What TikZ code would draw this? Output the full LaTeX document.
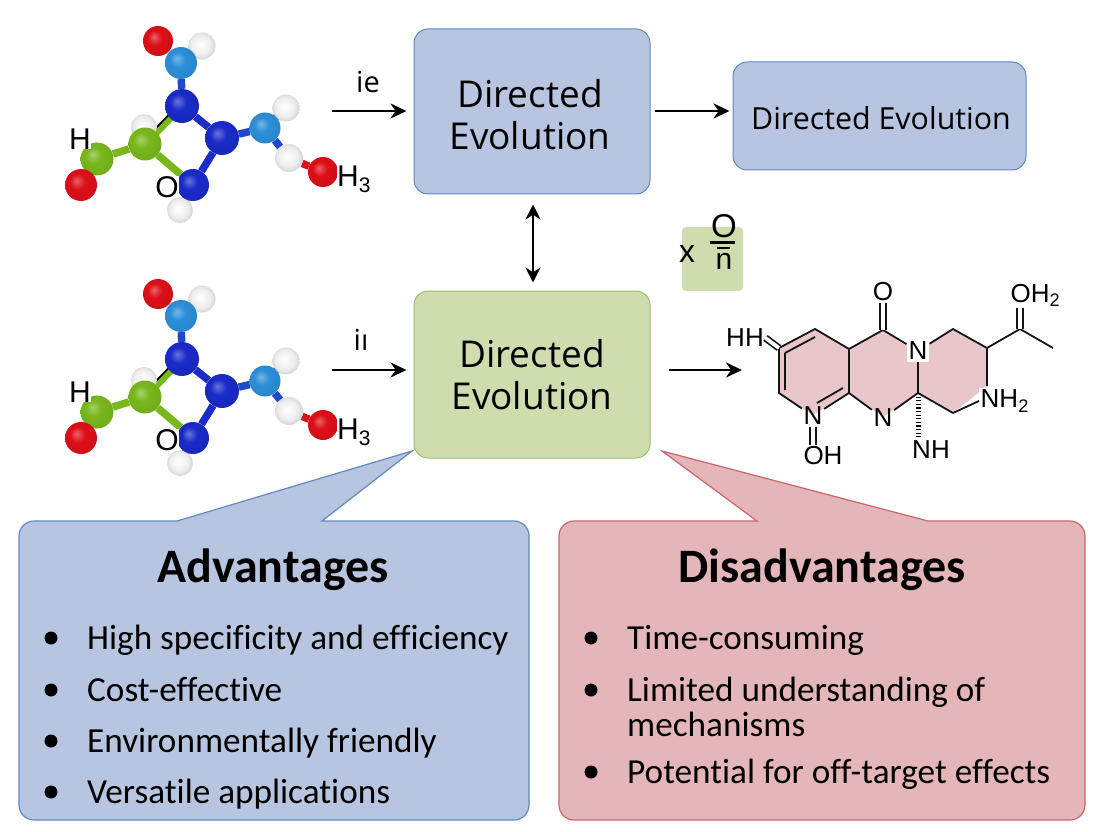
\documentclass[tikz,border=0pt]{standalone}
\usepackage{fontspec}
\setmainfont[RawFeature=-liga]{Carlito}
\newfontfamily\evofont{Open Sans}
\newfontfamily\chemfont{Liberation Sans}
\usetikzlibrary{arrows.meta,backgrounds}
\definecolor{boxblue}{HTML}{B8C5E0}
\definecolor{lineblue}{HTML}{5F8ABF}
\definecolor{boxgreen}{HTML}{CFDDAE}
\definecolor{linegreen}{HTML}{9DBD6E}
\definecolor{boxred}{HTML}{E5B6B9}
\definecolor{linered}{HTML}{C9656B}
\definecolor{ringpink}{HTML}{E8C6C9}
\definecolor{molred}{HTML}{DD0F18}
\definecolor{molblue}{HTML}{1A2BC8}
\definecolor{molsky}{HTML}{2C8FD8}
\definecolor{molgreen}{HTML}{78B81C}
\newcommand{\fsz}[1]{\fontsize{#1}{#1}\selectfont}
\newcommand{\newball}[2]{\pgfdeclareradialshading{#1}{\pgfpoint{-7bp}{7bp}}{%
  color(0bp)=(#2!65!white); color(12bp)=(#2); color(32bp)=(#2!92!black); color(50bp)=(#2!55!black)}}
\newball{redball}{molred}
\newball{blueball}{molblue}
\newball{skyball}{molsky}
\newball{greenball}{molgreen}
\pgfdeclareradialshading{whiteball}{\pgfpoint{-3bp}{3bp}}{%
  color(0bp)=(white); color(18bp)=(black!7); color(34bp)=(black!26); color(50bp)=(black!55)}

\begin{document}
\begin{tikzpicture}[x=1pt,y=-1pt,
  atom/.style 2 args={circle,inner sep=0pt,minimum size=#1,shading=#2ball},
  bond/.style={line width=7.5pt,draw=#1},
  lab/.style={font=\chemfont\fsz{30},inner sep=0pt},
  flow/.style={line width=2.8pt,-{Stealth[length=16pt,width=15pt]}},
  evobox/.style={draw=lineblue,fill=boxblue,line width=1pt,rounded corners=14pt,inner sep=0pt},
  evotext/.style={align=center,inner sep=0pt,font=\evofont\fsz{37}},
  callout/.style={line width=1.2pt},
  head/.style={font=\bfseries\fsz{48},inner sep=0pt},
  item/.style={anchor=base west,font=\fsz{35.2},inner sep=0pt},
  point/.style={circle,fill=black,inner sep=0pt,minimum size=13pt},
  chem/.style={font=\chemfont\fsz{26},inner sep=1.5pt},
  chembond/.style={line width=1.8pt,draw=black!92},
  dbl/.style={line width=1.7pt,double,double distance=3.8pt,draw=black!92},
  ballmol/.pic={
    \node[atom={26}{white}] (hb) at (144,127) {};
    \node[atom={30}{red}] (o1) at (158,41) {};
    \node[atom={27}{white}] (h1) at (202,46) {};
    \node[atom={32}{sky}] (c1) at (181,63) {};
    \node[atom={34}{blue}] (n1) at (182,106) {};
    \node[atom={34}{blue}] (n2) at (222,138) {};
    \node[atom={31}{sky}] (c2) at (265,128) {};
    \node[atom={27}{white}] (h2) at (286,108) {};
    \node[atom={30}{red}] (o2) at (323,172) {};
    \node[atom={28}{white}] (h3) at (289,158) {};
    \node[atom={26}{white}] (h4) at (180,210) {};
    \node[atom={32}{blue}] (n3) at (193,185) {};
    \node[atom={33}{green}] (g1) at (145,144) {};
    \node[atom={33}{green}] (g2) at (97,159) {};
    \node[atom={32}{red}] (o3) at (81,185) {};
    \node[lab,fill=white] (labh) at (80,139) {H};
    \node[lab,fill=white,inner sep=.5pt] (labo) at (167,187) {O};
    \node[lab,fill=white,anchor=west] (labt) at (337,179) {H\textsubscript{3}};
    \begin{scope}[on background layer]
      \draw[bond=molsky!50!white] (o1) -- (c1);
      \draw[bond=molblue!70!molsky] (h1) -- (c1);
      \draw[bond=molblue!70!molsky] (c1) -- (n1);
      \draw[bond=molblue] (n1) -- (n2) (n2) -- (n3);
      \draw[bond=molblue!70!molsky] (n2) -- (c2) (c2) -- (h2) (c2) -- (h3);
      \draw[bond=molred] (h3) -- (o2);
      \draw[bond=molgreen] (g1) -- (g2) (g1) -- (n3);
      \draw[bond=molred] (g2) -- (o3);
      \draw[bond=molblue] (n3) -- (h4);
      \draw[bond=black,line width=4pt] ([xshift=-3pt]n1.center) -- ([xshift=-3pt]g1.center);
      \draw[bond=molgreen,line width=6pt] ([xshift=1pt]n1.center) -- ([xshift=1pt]g1.center);
    \end{scope}
  }]
  \useasboundingbox (0,0) rectangle (1104,832);

  % molecules on the left
  \pic (mola) at (0,0) {ballmol};
  \pic (molb) at (0,253) {ballmol};

  % boxes
  \node[evobox,minimum width=236pt,minimum height=165pt] (dirtop) at (532,111.5) {};
  \node[evotext] (dirtoplab) at (530,115) {Directed\\[5pt]Evolution};
  \node[evobox,minimum width=293pt,minimum height=108pt] (dirright) at (879.5,116) {};
  \node[evotext,font=\evofont\fsz{30.4}] (dirrightlab) at (881,118) {Directed Evolution};
  \node[evobox,draw=linegreen,fill=boxgreen,minimum width=236pt,minimum height=167pt] (dirgreen) at (532,374.5) {};
  \node[evotext] (dirgreenlab) at (532,375) {Directed\\[5pt]Evolution};

  % arrows
  \coordinate (iestart) at (332,111);
  \coordinate (iistart) at (332,370);
  \coordinate (chemin) at (742,370);
  \node[font=\evofont\fsz{29},inner sep=0pt] (ielab) at (368,82) {ie};
  \node[font=\evofont\fsz{29},inner sep=0pt] (iilab) at (361,340) {iı};
  \draw[flow,shorten >=7pt] (iestart) -- (iestart -| dirtop.west);
  \draw[flow,shorten >=7pt] (iistart) -- (iistart -| dirgreen.west);
  \draw[flow,shorten <=4pt,shorten >=3pt] (iestart -| dirtop.east) -- (iestart -| dirright.west);
  \draw[flow,shorten <=18pt] (chemin -| dirgreen.east) -- (chemin);
  \draw[flow,{Stealth[length=15pt,width=15pt]}-{Stealth[length=15pt,width=15pt]},shorten <=10pt,shorten >=8pt]
    ([xshift=1pt]dirtop.south) -- ([xshift=1pt]dirgreen.north);

  % small green box
  \node[fill=boxgreen,rounded corners=4pt,minimum width=61pt,minimum height=64pt,inner sep=0pt] (xbox) at (712.5,259) {};
  \node[font=\chemfont\fsz{32},inner sep=0pt] (xlab) at (687,254) {x};
  \node[font=\chemfont\fsz{33},inner sep=0pt] (xo) at (724,226) {O};
  \node[font=\chemfont\fsz{30},inner sep=0pt] (xn) at (724,261) {n};
  \coordinate (xbara) at (710,242);
  \coordinate (xbarb) at (735,242);
  \coordinate (xbarc) at (717,248);
  \coordinate (xbard) at (730,248);
  \draw[line width=3pt] (xbara) -- (xbarb);
  \draw[line width=1.4pt] (xbarc) -- (xbard);

  % ring system
  \coordinate (la) at (815,329);
  \coordinate (lb) at (849,349);
  \coordinate (lc) at (849,393);
  \coordinate (ld) at (779,393);
  \coordinate (le) at (779,348);
  \coordinate (ma) at (883,330);
  \coordinate (mc) at (918,393);
  \coordinate (ra) at (953,329);
  \coordinate (rb) at (987,348);
  \coordinate (rc) at (987,386);
  \coordinate (rd) at (953,413);
  \coordinate (sa) at (1020,329);
  \coordinate (sb) at (1053,348);
  \path[fill=ringpink] (la) -- (lb) -- (ma) -- (918,350) -- (ra) -- (rb) -- (rc) -- (rd)
    -- (mc) -- (883,417) -- (lc) -- (813,415) -- (ld) -- (le) -- cycle;
  \node[chem,fill=white,inner sep=2pt] (nmid) at (918,351) {N};
  \node[chem] (nlow) at (813,416) {N};
  \node[chem] (nbot) at (883,418) {N};
  \node[chem,fill=white,anchor=west] (nhtwo) at (979,401) {NH\textsubscript{2}};
  \node[chem] (otop) at (883,292) {O};
  \node[chem,anchor=west] (ohtwo) at (1009,295) {OH\textsubscript{2}};
  \node[chem] (hh) at (745,338) {HH};
  \node[chem] (ohlow) at (823,456) {OH};
  \node[chem] (nhlow) at (931,450) {NH};
  \draw[chembond] (le) -- (la) -- (lb) -- (lc);
  \draw[chembond] (lb) -- (ma) -- (nmid) -- (mc) -- (nbot) -- (lc) -- (nlow) -- (ld) -- (le);
  \draw[chembond] (nmid) -- (ra) -- (rb) -- (sa) -- (sb);
  \draw[chembond] (rb) -- (rc) (rd) -- (nhtwo.west) (mc) -- (rd);
  \draw[chembond] (785,353) -- (815,337) (785,353) -- (785,390) (817,403) -- (843,388);
  \draw[dbl] (otop) -- (ma);
  \draw[dbl] (sa) -- (sa |- ohtwo.south);
  \draw[dbl] (hh.east) -- (le);
  \draw[dbl] (nlow) -- (nlow |- ohlow.north);
  \draw[line width=5pt,dash pattern=on 1.2pt off 2.4pt] (mc) -- (nhlow.north -| mc);

  % callouts
  \path[callout,draw=lineblue,fill=boxblue] (177,521) -- (412,451) -- (322,521)
    -- (514,521) arc[start angle=-90,end angle=0,radius=15]
    -- (529,805) arc[start angle=0,end angle=90,radius=15]
    -- (34,820) arc[start angle=90,end angle=180,radius=15]
    -- (19,536) arc[start angle=180,end angle=270,radius=15] -- cycle;
  \path[callout,draw=linered,fill=boxred] (757,521) -- (662,451) -- (928,521)
    -- (1070,521) arc[start angle=-90,end angle=0,radius=15]
    -- (1085,805) arc[start angle=0,end angle=90,radius=15]
    -- (574,820) arc[start angle=90,end angle=180,radius=15]
    -- (559,536) arc[start angle=180,end angle=270,radius=15] -- cycle;

  \node[head] (advhead) at (273,570) {Advantages};
  \foreach \i/\ypos/\txt in {a/638/High specificity and efficiency,b/690/Cost-effective,
    c/741/Environmentally friendly,d/792/Versatile applications}{
    \node[point] (advp\i) at (51,\ypos) {};
    \node[item] (adv\i) at (87,\ypos+11) {\txt};
  }
  \node[head] (dishead) at (822,570) {Disadvantages};
  \foreach \i/\ypos/\txt in {a/638/Time-consuming,b/690/Limited understanding of,
    c/772/Potential for off-target effects}{
    \node[point] (disp\i) at (591,\ypos) {};
    \node[item] (dis\i) at (627,\ypos+11) {\txt};
  }
  \node[item] (dismech) at (627,736) {mechanisms};
\end{tikzpicture}
\end{document}
